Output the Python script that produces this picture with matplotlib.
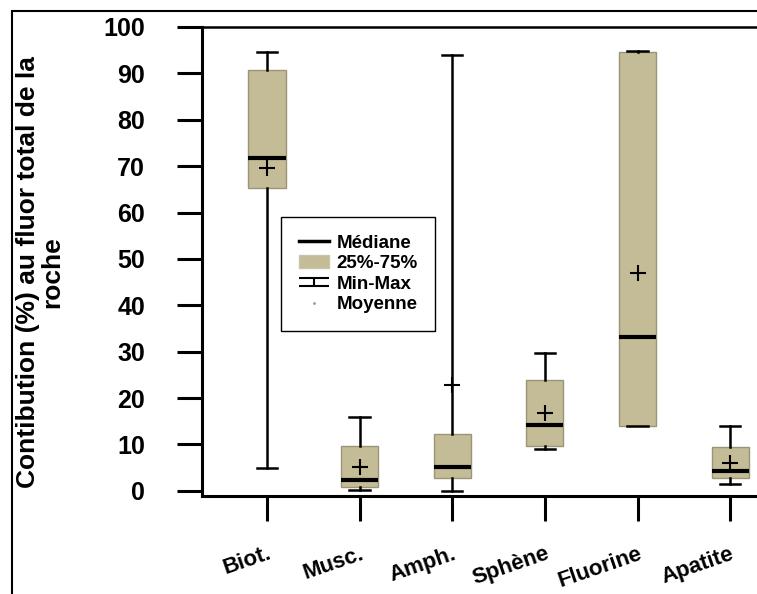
import matplotlib
matplotlib.use('Agg')
import matplotlib.pyplot as plt
from matplotlib.patches import Patch, Rectangle
from matplotlib.lines import Line2D
from matplotlib.path import Path

plt.rcParams['font.family'] = ['Liberation Sans', 'DejaVu Sans']
plt.rcParams['font.weight'] = 'bold'

# Données : contribution (%) au fluor total de la roche
categories = ['Biot.', 'Musc.', 'Amph.', 'Sphène', 'Fluorine', 'Apatite']
minimum = [5.0, 0.2, 0.0, 9.0, 14.0, 1.5]
q1 = [65.3, 0.9, 2.8, 9.7, 14.0, 2.8]
mediane = [71.8, 2.4, 5.2, 14.2, 33.2, 4.3]
q3 = [90.8, 9.7, 12.3, 24.0, 94.7, 9.5]
maximum = [94.6, 16.0, 94.0, 29.7, 94.8, 14.0]
moyenne = [69.6, 5.2, 22.8, 16.8, 47.0, 6.0]
yticks = [0, 10, 20, 30, 40, 50, 60, 70, 80, 90, 100]

couleur_boite = '#c4bc96'

stats = []
for i in range(len(categories)):
    stats.append({'label': categories[i], 'whislo': minimum[i], 'q1': q1[i],
                  'med': mediane[i], 'q3': q3[i], 'whishi': maximum[i],
                  'mean': moyenne[i], 'fliers': []})

fig = plt.figure(figsize=(7.57, 5.94), dpi=100)
ax = fig.add_axes([0.2668, 0.165, 0.74, 0.7896])

ax.bxp(stats, positions=range(1, len(categories) + 1), widths=0.4, capwidths=0.22,
       patch_artist=True, showmeans=True,
       boxprops=dict(facecolor=couleur_boite, edgecolor='#9a9576', linewidth=1),
       medianprops=dict(color='black', linewidth=3),
       whiskerprops=dict(color='black', linewidth=1.8),
       capprops=dict(color='black', linewidth=1.8),
       meanprops=dict(marker='+', markeredgecolor='black', markersize=11,
                      markeredgewidth=1.5))

ax.set_xlim(0.298, 6.345)
ax.set_ylim(-1.1, 100)
ax.set_yticks(yticks)
ax.set_yticklabels([str(v) for v in yticks], fontsize=18, fontweight='bold')
ax.tick_params(axis='y', length=18, width=2.2, pad=23, direction='out')
ax.tick_params(axis='x', length=18, width=2.2, pad=16, direction='out')
ax.set_xticklabels(categories, fontsize=16, fontweight='bold', rotation=19,
                   ha='right', rotation_mode='anchor')

for s in ['left', 'bottom']:
    ax.spines[s].set_linewidth(2.2)
ax.spines['top'].set_linewidth(1.8)
ax.spines['right'].set_visible(False)

# Titre de l'axe Y
fig.text(0.053, 0.542, 'Contibution (%) au fluor total de la\nroche', fontsize=19,
         fontweight='bold', rotation=90, ha='center', va='center',
         multialignment='center', linespacing=1.05)

# Légende personnalisée
minmax = Path([(-1, 0.3), (1, 0.3), (0, 0.3), (0, -0.3), (-1, -0.3), (1, -0.3)],
              [Path.MOVETO, Path.LINETO, Path.MOVETO, Path.LINETO, Path.MOVETO, Path.LINETO])
poignees = [Line2D([], [], color='black', linewidth=2.5),
            Patch(facecolor=couleur_boite, edgecolor='#c8c4a8'),
            Line2D([], [], color='black', linestyle='none', marker=minmax,
                   markersize=21, markeredgewidth=1.5, markerfacecolor='none'),
            Line2D([], [], color='#999999', linestyle='none', marker='.', markersize=2)]
leg = ax.legend(poignees, ['Médiane', '25%-75%', 'Min-Max', 'Moyenne'],
                loc='upper left', bbox_to_anchor=(0.141, 0.595), fancybox=False,
                edgecolor='black', framealpha=1, prop={'size': 13.5, 'weight': 'bold'},
                handlelength=1.6, labelspacing=0.18, borderpad=0.95, handletextpad=0.4,
                borderaxespad=0)
leg.get_frame().set_linewidth(1)

# Cadre extérieur
fig.patches.append(Rectangle((0.0159, -0.1), 1.0, 1.0815, transform=fig.transFigure,
                             fill=False, edgecolor='black', linewidth=1.5))

fig.savefig('out.png', dpi=100)
